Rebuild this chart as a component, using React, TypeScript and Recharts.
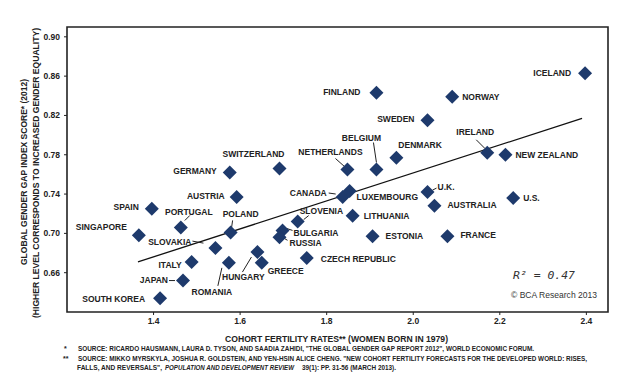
import React from 'react';
import {
  ScatterChart,
  Scatter,
  XAxis,
  YAxis,
  ReferenceLine,
  ReferenceArea,
} from 'recharts';

const countries = [
  'ICELAND', 'FINLAND', 'NORWAY', 'SWEDEN', 'IRELAND', 'NEW ZEALAND',
  'DENMARK', 'BELGIUM', 'NETHERLANDS', 'SWITZERLAND', 'GERMANY', 'AUSTRIA',
  'CANADA', 'LUXEMBOURG', 'U.K.', 'AUSTRALIA', 'U.S.', 'LITHUANIA',
  'ESTONIA', 'FRANCE', 'CZECH REPUBLIC', 'SLOVENIA', 'BULGARIA', 'RUSSIA',
  'GREECE', 'HUNGARY', 'ROMANIA', 'POLAND', 'SLOVAKIA', 'PORTUGAL',
  'SPAIN', 'SINGAPORE', 'ITALY', 'JAPAN', 'SOUTH KOREA',
];

// cohort fertility rate, women born in 1979
const fertility = [
  2.397, 1.915, 2.09, 2.033, 2.171, 2.213,
  1.961, 1.915, 1.848, 1.691, 1.576, 1.592,
  1.837, 1.853, 2.033, 2.049, 2.231, 1.86,
  1.906, 2.079, 1.754, 1.733, 1.698, 1.691,
  1.65, 1.64, 1.574, 1.578, 1.543, 1.463,
  1.396, 1.366, 1.488, 1.468, 1.415,
];

// global gender gap index score, 2012
const genderGap = [
  0.863, 0.843, 0.839, 0.815, 0.782, 0.78,
  0.777, 0.765, 0.765, 0.766, 0.762, 0.737,
  0.737, 0.743, 0.742, 0.728, 0.736, 0.718,
  0.697, 0.697, 0.675, 0.712, 0.703, 0.696,
  0.67, 0.681, 0.67, 0.701, 0.685, 0.706,
  0.725, 0.698, 0.671, 0.652, 0.634,
];

const trendLine = [
  { x: 1.364, y: 0.671 },
  { x: 2.39, y: 0.817 },
];

const xTicks = [1.4, 1.6, 1.8, 2.0, 2.2, 2.4];
const yTicks = [0.66, 0.7, 0.74, 0.78, 0.82, 0.86, 0.9];
const xDomain = [1.2, 2.45];
const yDomain = [0.62, 0.91];

const points = countries.map((name, i) => ({
  name,
  x: fertility[i],
  y: genderGap[i],
}));

type Anchor = 'start' | 'middle' | 'end';
interface LabelPos {
  dx: number;
  dy: number;
  anchor: Anchor;
  leader?: [number, number, number, number];
}

// label placement relative to the diamond centre (px)
const labelPos: Record<string, LabelPos> = {
  ICELAND: { dx: -14, dy: 0, anchor: 'end' },
  FINLAND: { dx: -16, dy: -1, anchor: 'end' },
  NORWAY: { dx: 10, dy: 0, anchor: 'start' },
  SWEDEN: { dx: -13, dy: -1, anchor: 'end' },
  IRELAND: { dx: -12, dy: -21, anchor: 'middle', leader: [-11, -13, -2, -4] },
  'NEW ZEALAND': { dx: 10, dy: 0, anchor: 'start' },
  DENMARK: { dx: 2, dy: -13, anchor: 'start' },
  BELGIUM: { dx: -15, dy: -32, anchor: 'middle', leader: [-3, -27, 0, -7] },
  NETHERLANDS: { dx: -17, dy: -18, anchor: 'middle', leader: [-12, -11, -3, -3] },
  SWITZERLAND: { dx: -26, dy: -15, anchor: 'middle' },
  GERMANY: { dx: -13, dy: -2, anchor: 'end' },
  AUSTRIA: { dx: -12, dy: -1, anchor: 'end' },
  CANADA: { dx: -16, dy: -4, anchor: 'end', leader: [-14, -4, -7, -3] },
  LUXEMBOURG: { dx: 7, dy: 6, anchor: 'start' },
  'U.K.': { dx: 10, dy: -5, anchor: 'start', leader: [5, -2, 9, -4] },
  AUSTRALIA: { dx: 13, dy: -1, anchor: 'start' },
  'U.S.': { dx: 10, dy: 0, anchor: 'start' },
  LITHUANIA: { dx: 11, dy: 0, anchor: 'start' },
  ESTONIA: { dx: 13, dy: 0, anchor: 'start' },
  FRANCE: { dx: 13, dy: -1, anchor: 'start' },
  'CZECH REPUBLIC': { dx: 14, dy: 1, anchor: 'start' },
  SLOVENIA: { dx: 2, dy: -11, anchor: 'start', leader: [11, -6, 6, -2] },
  BULGARIA: { dx: 11, dy: 3, anchor: 'start', leader: [4, -2, 10, 0] },
  RUSSIA: { dx: 10, dy: 6, anchor: 'start', leader: [3, 0, 8, 3] },
  GREECE: { dx: 6, dy: 8, anchor: 'start' },
  HUNGARY: { dx: -14, dy: 25, anchor: 'middle', leader: [-15, 20, -6, 5] },
  ROMANIA: { dx: -17, dy: 29, anchor: 'middle', leader: [-11, 23, -7, 5] },
  POLAND: { dx: 10, dy: -18, anchor: 'middle', leader: [2, -12, 1, -5] },
  SLOVAKIA: { dx: -24, dy: -6, anchor: 'end', leader: [-23, -7, -12, -5] },
  PORTUGAL: { dx: 8, dy: -16, anchor: 'middle', leader: [9, -12, 4, -7] },
  SPAIN: { dx: -13, dy: -2, anchor: 'end' },
  SINGAPORE: { dx: -12, dy: -8, anchor: 'end' },
  ITALY: { dx: -10, dy: 3, anchor: 'end' },
  JAPAN: { dx: -15, dy: -1, anchor: 'end', leader: [-14, 0, -8, 0] },
  'SOUTH KOREA': { dx: -15, dy: 1, anchor: 'end' },
};

const FONT = '"Liberation Sans", Arial, sans-serif';
const INK = '#222';
const MARKER = '#1e3a6c';

function DiamondWithLabel(props: any) {
  const { cx, cy, payload } = props;
  if (cx == null || cy == null) return null;
  const pos = labelPos[payload.name] || { dx: 10, dy: 0, anchor: 'start' };
  const r = 7;
  return (
    <g>
      {pos.leader && (
        <line
          x1={cx + pos.leader[0]}
          y1={cy + pos.leader[1]}
          x2={cx + pos.leader[2]}
          y2={cy + pos.leader[3]}
          stroke={INK}
          strokeWidth={1}
        />
      )}
      <polygon
        points={`${cx},${cy - r} ${cx + r},${cy} ${cx},${cy + r} ${cx - r},${cy}`}
        fill={MARKER}
      />
      <text
        x={cx + pos.dx}
        y={cy + pos.dy}
        dy="0.36em"
        textAnchor={pos.anchor}
        fontFamily={FONT}
        fontWeight="bold"
        fontSize={8.5}
        fill={INK}
      >
        {payload.name}
      </text>
    </g>
  );
}

const tickStyle = { fontSize: 8.5, fontWeight: 'bold', fill: INK, fontFamily: FONT };

// a footnote piece squeezed to the width it has in the reference
function Note({ x, y, w, italic, children }: any) {
  return (
    <text
      x={x}
      y={y}
      dy="0.36em"
      fontSize={7}
      fontStyle={italic ? 'italic' : 'normal'}
      textLength={w}
      lengthAdjust="spacingAndGlyphs"
    >
      {children}
    </text>
  );
}

export default function App() {
  return (
    <div style={{ position: 'absolute', left: 0, top: 0, width: 640, height: 387, background: '#fff' }}>
      <ScatterChart
        width={640}
        height={387}
        margin={{ top: 27, right: 32, bottom: 55, left: 27 }}
      >
        <XAxis
          type="number"
          dataKey="x"
          domain={xDomain}
          ticks={xTicks}
          allowDataOverflow
          tickFormatter={(v: number) => v.toFixed(1)}
          tick={tickStyle}
          tickSize={3}
          tickMargin={3}
          tickLine={{ stroke: INK }}
          axisLine={false}
          height={20}
        />
        <YAxis
          type="number"
          dataKey="y"
          domain={yDomain}
          ticks={yTicks}
          allowDataOverflow
          tickFormatter={(v: number) => v.toFixed(2)}
          tick={tickStyle}
          tickSize={3}
          tickMargin={4}
          tickLine={{ stroke: INK }}
          axisLine={false}
          width={40}
        />
        <ReferenceArea
          x1={xDomain[0]}
          x2={xDomain[1]}
          y1={yDomain[0]}
          y2={yDomain[1]}
          fill="none"
          stroke={INK}
          strokeWidth={1.6}
          fillOpacity={0}
        />
        <ReferenceLine segment={trendLine} stroke="#111" strokeWidth={1.3} />
        <Scatter
          data={points}
          shape={DiamondWithLabel}
          isAnimationActive={false}
        />
      </ScatterChart>
      <svg
        width={640}
        height={387}
        style={{ position: 'absolute', left: 0, top: 0, pointerEvents: 'none' }}
      >
        <g fontFamily={FONT} fontWeight="bold" fill={INK}>
          <text
            transform="translate(24,172) rotate(-90)"
            textAnchor="middle"
            dy="0.36em"
            fontSize={8.5}
            textLength={186}
            lengthAdjust="spacingAndGlyphs"
          >
            GLOBAL GENDER GAP INDEX SCORE* (2012)
          </text>
          <text
            transform="translate(36,173) rotate(-90)"
            textAnchor="middle"
            dy="0.36em"
            fontSize={8.5}
            textLength={290}
            lengthAdjust="spacingAndGlyphs"
          >
            (HIGHER LEVEL CORRESPONDS TO INCREASED GENDER EQUALITY)
          </text>
          <text
            x={225}
            y={339}
            dy="0.36em"
            fontSize={9.5}
            textLength={223}
            lengthAdjust="spacingAndGlyphs"
          >
            COHORT FERTILITY RATES** (WOMEN BORN IN 1979)
          </text>
          <text x={64} y={348} dy="0.36em" fontSize={7}>*</text>
          <Note x={78} y={348} w={456}>
            SOURCE: RICARDO HAUSMANN, LAURA D. TYSON, AND SAADIA ZAHIDI, "THE GLOBAL GENDER GAP REPORT 2012", WORLD ECONOMIC FORUM.
          </Note>
          <text x={63} y={358} dy="0.36em" fontSize={7}>**</text>
          <Note x={78} y={358} w={509}>
            SOURCE: MIKKO MYRSKYLA, JOSHUA R. GOLDSTEIN, AND YEN-HSIN ALICE CHENG. "NEW COHORT FERTILITY FORECASTS FOR THE DEVELOPED WORLD: RISES,
          </Note>
          <Note x={77} y={367} w={85}>FALLS,  AND REVERSALS",</Note>
          <Note x={165} y={367} w={129} italic>POPULATION AND DEVELOPMENT REVIEW</Note>
          <Note x={302} y={367} w={94}>39(1): PP. 31-56 (MARCH 2013).</Note>
        </g>
        <text
          x={513}
          y={275}
          dy="0.36em"
          fontFamily='"DejaVu Sans Mono", monospace'
          fontStyle="italic"
          fontSize={11}
          fill="#333"
          textLength={62}
          lengthAdjust="spacingAndGlyphs"
        >
          R² = 0.47
        </text>
        <text
          x={511}
          y={295}
          dy="0.36em"
          fontFamily={FONT}
          fontSize={9}
          fill="#333"
          textLength={86}
          lengthAdjust="spacingAndGlyphs"
        >
          © BCA Research 2013
        </text>
      </svg>
    </div>
  );
}
